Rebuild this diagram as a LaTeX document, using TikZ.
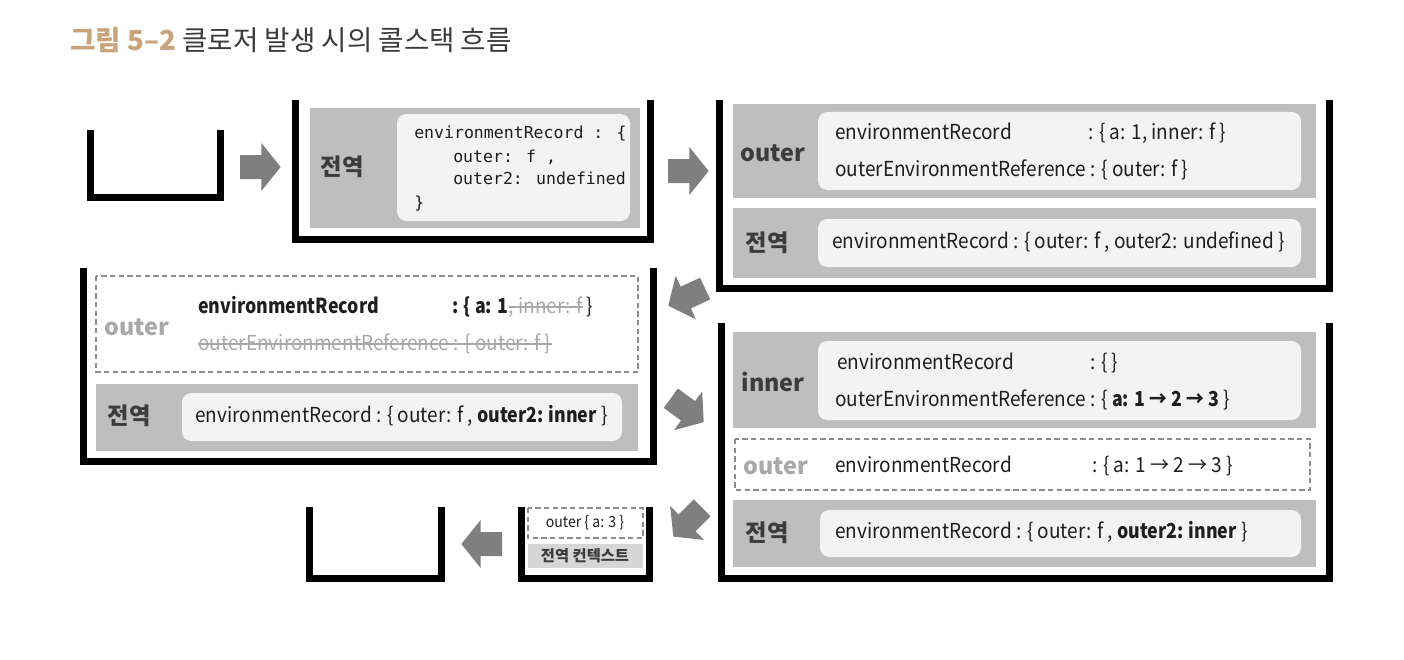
\documentclass[tikz,border=0pt]{standalone}
\usepackage{fontspec}
\setmainfont{Noto Sans CJK KR}
\newfontfamily\bodyfont[FakeStretch=0.92]{Noto Sans CJK KR}
\newfontfamily\boldbody[FakeStretch=0.86]{Noto Sans CJK KR}
\newfontfamily\codefont{DejaVu Sans Mono}
\newcommand\bb[1]{{\boldbody\bfseries #1}}
\definecolor{boxgray}{HTML}{BEBEBE}
\definecolor{wbox}{HTML}{F3F3F3}
\definecolor{labelcol}{HTML}{3C3C3C}
\definecolor{txtcol}{HTML}{1E1E1E}
\definecolor{arrowgray}{HTML}{7F7F7F}
\definecolor{faded}{HTML}{A8A8A8}
\definecolor{dashgray}{HTML}{8C8C8C}
\definecolor{titletan}{HTML}{C9A47A}
\definecolor{titledark}{HTML}{3B3B3B}
\definecolor{lightbox}{HTML}{D6D6D6}
\newcommand\blockarrow[3]{%
  \begin{scope}[shift={(#1,#2)},rotate=#3]
    \fill[arrowgray] (-15pt,-9pt) -- (1pt,-9pt) -- (1pt,-18pt) -- (15.5pt,0pt) -- (1pt,18pt) -- (1pt,9pt) -- (-15pt,9pt) -- cycle;
  \end{scope}}
\begin{document}
\begin{tikzpicture}[x=0.75pt,y=-0.75pt,
  stackline/.style={line width=5.25pt, line join=miter, draw=black},
  graybox/.style={fill=boxgray},
  whitebox/.style={fill=wbox, rounded corners=7pt},
  dashbox/.style={draw=dashgray, line width=0.8pt, dash pattern=on 4pt off 2.5pt},
  lbl/.style={inner sep=0pt, font=\fontsize{17.5}{20}\selectfont\bfseries, text=labelcol},
  fadelbl/.style={lbl, text=faded},
  txt/.style={anchor=base west, inner sep=0pt, font=\bodyfont\fontsize{15.5}{18}\selectfont, text=txtcol},
  code/.style={anchor=base west, inner sep=0pt, font=\codefont\fontsize{12.4}{14}\selectfont, text=txtcol},
  small/.style={inner sep=0pt, font=\bodyfont\fontsize{11.5}{13}\selectfont, text=txtcol},
  strike/.style={draw=faded, line width=0.9pt}]
\useasboundingbox (0,0) rectangle (1404,660);

% title
\node[anchor=base west, inner sep=0pt, font=\fontsize{20.7}{24}\selectfont] (title) at (70,51)
  {{\bfseries\color{titletan}그림 5–2} {\color{titledark}클로저 발생 시의 콜스택 흐름}};

% stack 0 (empty)
\draw[stackline] (90,130) -- (90,197) -- (220,197) -- (220,130);
\blockarrow{260}{167}{0}

% stack 1
\draw[stackline] (295,100) -- (295,239) -- (650,239) -- (650,100);
\fill[graybox] (310,108) rectangle (640,228);
\node[lbl] (s1g) at (342,167) {전역};
\fill[whitebox] (397,114) rectangle (630,221);
\node[code] (s1c1) at (414,138) {environmentRecord : \{};
\node[code] (s1c2) at (453,162) {outer: f ,};
\node[code] (s1c3) at (453,185) {outer2: undefined};
\node[code] (s1c4) at (414,208) {\}};
\blockarrow{688}{171}{0}

% stack 2
\draw[stackline] (719,100) -- (719,288) -- (1329,288) -- (1329,100);
\fill[graybox] (733,104) rectangle (1316,198);
\node[lbl] (s2o) at (773,153) {outer};
\fill[whitebox] (818,112) rectangle (1301,190);
\node[txt] (s2a) at (835,139) {environmentRecord};
\node[txt] (s2b) at (1088,139) {: \{ a: 1, inner: f \}};
\node[txt] (s2c) at (835,176) {outerEnvironmentReference : \{ outer: f \}};
\fill[graybox] (733,208) rectangle (1316,278);
\node[lbl] (s2g) at (767,243) {전역};
\fill[whitebox] (818,219) rectangle (1301,267);
\node[txt] (s2d) at (832,248) {environmentRecord : \{ outer: f , outer2: undefined \}};
\blockarrow{687}{297}{205}

% stack 3
\draw[stackline] (83,268) -- (83,461) -- (653,461) -- (653,268);
\draw[dashbox] (96,276) rectangle (638,372);
\node[fadelbl] (s3o) at (137,327) {outer};
\node[txt] (s3a) at (198,313) {\bb{environmentRecord}};
\node[txt] (s3b) at (452,313) {\bb{: \{ a: 1}};
\node[txt, text=faded] (s3b2) at (s3b.base east) {, inner: f};
\node[txt] (s3b3) at (s3b2.base east) {\,\}};
\draw[strike] ([yshift=4.5pt]s3b2.base west) -- ([yshift=4.5pt]s3b2.base east);
\node[txt, text=faded] (s3c) at (198,350) {outerEnvironmentReference : \{ outer: f \}};
\draw[strike] ([yshift=4.5pt]s3c.base west) -- ([yshift=4.5pt]s3c.base east);
\fill[graybox] (96,384) rectangle (638,451);
\node[lbl] (s3g) at (129,416) {전역};
\fill[whitebox] (182,393) rectangle (622,441);
\node[txt] (s3d) at (195,422) {environmentRecord : \{ outer: f , \bb{outer2: inner} \}};
\blockarrow{687}{410}{-36}

% stack 4
\draw[stackline] (721,323) -- (721,578) -- (1329,578) -- (1329,323);
\fill[graybox] (733,332) rectangle (1316,428);
\node[lbl] (s4i) at (773,382) {inner};
\fill[whitebox] (818,341) rectangle (1301,420);
\node[txt] (s4a) at (837,369) {environmentRecord};
\node[txt] (s4b) at (1090,369) {: \{ \}};
\node[txt] (s4c) at (835,406) {outerEnvironmentReference : \{ \bb{a: 1 → 2 → 3} \}};
\draw[dashbox] (735,439) rectangle (1310,490);
\node[fadelbl] (s4o) at (776,466) {outer};
\node[txt] (s4d) at (835,472) {environmentRecord};
\node[txt] (s4e) at (1092,472) {: \{ a: 1 → 2 → 3 \}};
\fill[graybox] (733,500) rectangle (1316,567);
\node[lbl] (s4g) at (767,533) {전역};
\fill[whitebox] (820,510) rectangle (1301,557);
\node[txt] (s4f) at (835,538) {environmentRecord : \{ outer: f , \bb{outer2: inner} \}};
\blockarrow{688}{522}{225}

% stack 5 (small)
\draw[stackline] (521,507) -- (521,578) -- (649,578) -- (649,507);
\draw[dashbox] (528,508) rectangle (643,538);
\node[small] (s5o) at (585,523) {outer \{ a: 3 \}};
\fill[lightbox] (528,544) rectangle (643,568);
\node[small, font=\fontsize{11.5}{13}\selectfont\bfseries, text=labelcol] (s5g) at (585,556) {전역 컨텍스트};
\blockarrow{482}{544}{180}

% stack 6 (empty)
\draw[stackline] (309,507) -- (309,578) -- (441,578) -- (441,507);
\end{tikzpicture}
\end{document}
